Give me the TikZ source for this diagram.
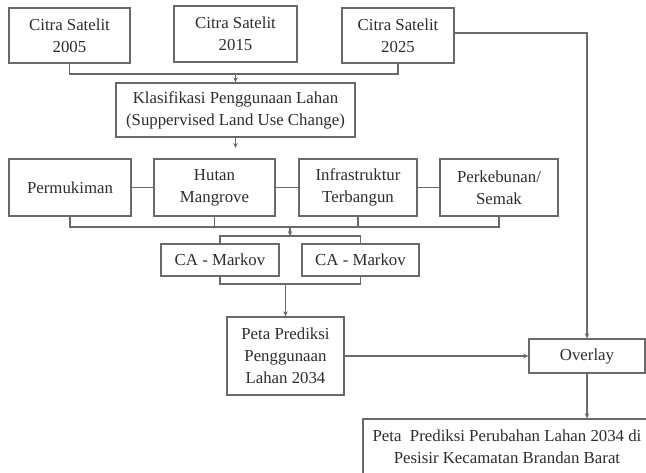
\documentclass[tikz,border=0pt]{standalone}
\usepackage{fontspec}
\setmainfont{Liberation Serif}
\usetikzlibrary{arrows.meta}
\definecolor{linegray}{RGB}{105,105,105}
\definecolor{textgray}{RGB}{45,45,45}
\tikzset{
  box/.style={draw=linegray, line width=1.3pt, rectangle, inner sep=0pt, align=center,
    text=textgray, font=\fontsize{16.8pt}{22pt}\selectfont},
  conn/.style={draw=linegray, line width=1.3pt},
  arr/.style={conn, -{Stealth[length=5pt,width=4.5pt]}}
}
\begin{document}
\begin{tikzpicture}[x=1pt,y=-1pt]
\clip (0,0) rectangle (646,473);
\fill[white] (0,0) rectangle (646,473);
% top row
\node[box, minimum width=121pt, minimum height=55pt] (c05) at (69.5,35.5) {Citra Satelit\\2005};
\node[box, minimum width=123pt, minimum height=56pt] (c15) at (235.5,34) {Citra Satelit\\2015};
\node[box, minimum width=112pt, minimum height=55pt] (c25) at (398,35.5) {Citra Satelit\\2025};
% classification
\node[box, minimum width=239pt, minimum height=54pt] (klas) at (235.5,110) {Klasifikasi Penggunaan Lahan\\(Suppervised Land Use Change)};
% land use classes
\node[box, minimum width=122pt, minimum height=57pt] (perm) at (70,187.5) {Permukiman};
\node[box, minimum width=121pt, minimum height=57pt] (hutan) at (214.5,187.5) {Hutan\\Mangrove};
\node[box, minimum width=118pt, minimum height=57pt] (infra) at (358,187.5) {Infrastruktur\\Terbangun};
\node[box, minimum width=118pt, minimum height=57pt] (perk) at (499,187.5) {Perkebunan/\\Semak};
% CA-Markov
\node[box, minimum width=118pt, minimum height=32pt] (ca1) at (220,260) {CA - Markov};
\node[box, minimum width=117pt, minimum height=32pt] (ca2) at (360.5,260) {CA - Markov};
% prediction
\node[box, minimum width=117pt, minimum height=78pt] (peta) at (285.5,356) {Peta Prediksi\\Penggunaan\\Lahan 2034};
\node[box, minimum width=116pt, minimum height=34pt] (overlay) at (587,356) {Overlay};
\node[box, minimum width=288pt, minimum height=56pt] (final) at (507,447) {Peta\ \ Prediksi Perubahan Lahan 2034 di\\Pesisir Kecamatan Brandan Barat};
% junction coordinates
\coordinate (j1) at (235.5,74);
\coordinate (k2) at (235.5,148);
\coordinate (j2) at (290,227);
\coordinate (j3) at (290,236);
\coordinate (j4) at (285.5,284);
% connectors
\draw[conn] (c05.south) |- (j1) -| (c25.south);
\draw[arr] (j1) -- (klas.north);
\draw[arr] (klas.south) -- (k2);
\draw[arr] ([yshift=2.5pt]c25.east) -| (overlay.north);
\draw[conn] (perm.east) -- (hutan.west);
\draw[conn] (hutan.east) -- (infra.west);
\draw[conn] (infra.east) -- (perk.west);
\draw[conn] (perm.south) |- (j2) -| (perk.south);
\draw[conn] (hutan.south) -- (hutan.south |- j2);
\draw[conn] (infra.south) -- (infra.south |- j2);
\draw[arr] (j2) -- (j3);
\draw[conn] (ca1.north) |- (j3) -| (ca2.north);
\draw[conn] (ca1.south) |- (j4) -| (ca2.south);
\draw[arr] (j4) -- (peta.north);
\draw[arr] (peta.east) -- (overlay.west);
\draw[arr] (overlay.south) -- (overlay.south |- final.north);
\end{tikzpicture}
\end{document}
